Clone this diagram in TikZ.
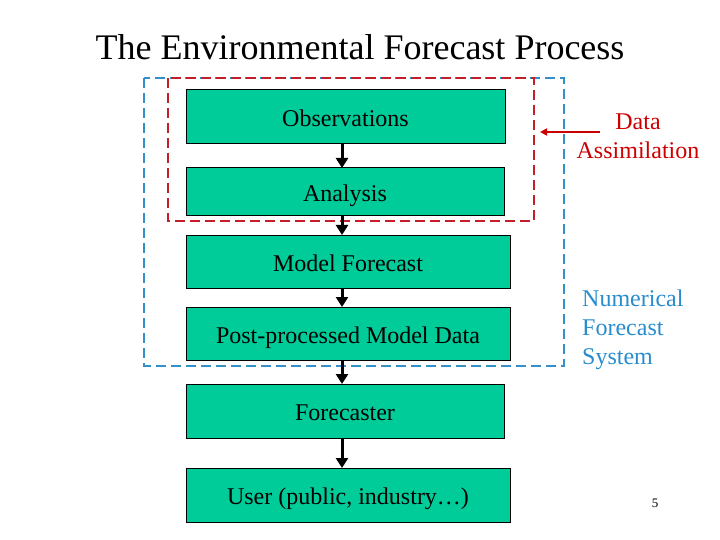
\documentclass[tikz,border=0pt]{standalone}
\usepackage{fontspec}
\setmainfont{Liberation Serif}
\usetikzlibrary{arrows.meta}
\definecolor{boxgreen}{RGB}{0,204,153}
\definecolor{dred}{RGB}{196,30,40}
\definecolor{tred}{RGB}{204,0,0}
\definecolor{dblue}{RGB}{50,145,200}
\definecolor{tblue}{RGB}{40,140,205}
\tikzset{
  stage/.style={draw=black, line width=1pt, fill=boxgreen, inner sep=0pt, outer sep=0pt,
    font=\fontsize{24}{26}\selectfont, text=black, text height=19pt, text depth=0pt},
  flow/.style={line width=3pt, -{Triangle[length=10pt,width=12pt]}},
  dashbox/.style={line width=2pt, dash pattern=on 10pt off 5pt},
  side/.style={font=\fontsize{24}{29}\selectfont, align=left, inner sep=0pt}
}
\begin{document}
\begin{tikzpicture}[x=1pt,y=-1pt]
\useasboundingbox (0,0) rectangle (720,540);
\node[font=\fontsize{36}{40}\selectfont] (title) at (360,47) {The Environmental Forecast Process};
% dashed frames
\draw[dashbox, dblue] (144,78) rectangle (564,366);
\draw[dashbox, dred] (168,78) rectangle (534,221);
% stages
\node[stage, minimum width=319pt, minimum height=54pt] (obs) at (345.5,117) {Observations};
\node[stage, minimum width=318pt, minimum height=48pt] (ana) at (345,192) {Analysis};
\node[stage, minimum width=324pt, minimum height=53pt] (mod) at (348,261.5) {Model Forecast};
\node[stage, minimum width=324pt, minimum height=53pt] (post) at (348,333.5) {Post-processed Model Data};
\node[stage, minimum width=318pt, minimum height=54pt] (fc) at (345,411) {Forecaster};
\node[stage, minimum width=324pt, minimum height=54pt] (user) at (348,495) {User (public, industry\ldots)};
\coordinate (ax) at (342,0);
\draw[flow] (obs.south -| ax) -- (ana.north -| ax);
\draw[flow] (ana.south -| ax) -- (mod.north -| ax);
\draw[flow] (mod.south -| ax) -- (post.north -| ax);
\draw[flow] (post.south -| ax) -- (fc.north -| ax);
\draw[flow] (fc.south -| ax) -- (user.north -| ax);
% labels
\node[side, text=tred, align=center] (da) at (638,136) {Data\\Assimilation};
\coordinate (dastart) at (600,132);
\coordinate (daend) at (540,132);
\draw[tred, line width=2pt, -{Triangle[length=7pt,width=7pt]}] (dastart) -- (daend);
\node[side, text=tblue, anchor=north west] (nfs) at (582,290) {Numerical\\Forecast\\System};
\node[font=\fontsize{13}{15}\selectfont] (pg) at (655,503) {5};
\end{tikzpicture}
\end{document}
